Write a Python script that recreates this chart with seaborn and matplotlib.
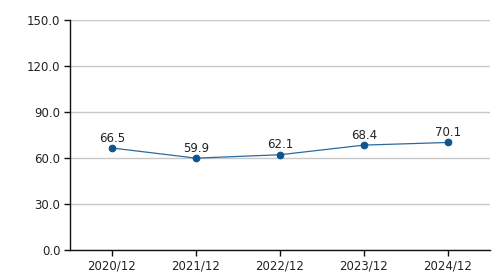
import matplotlib
matplotlib.use("Agg")
import matplotlib.pyplot as plt
import seaborn as sns
import pandas as pd

categories = ["2020/12", "2021/12", "2022/12", "2023/12", "2024/12"]
values = [66.5, 59.9, 62.1, 68.4, 70.1]
yticks = [0, 30, 60, 90, 120, 150]

sns.set_theme(style="white")
plt.rcParams['font.family'] = ['DejaVu Sans']

df = pd.DataFrame({"cat": categories, "val": values})
fig = plt.figure(figsize=(5, 2.8), dpi=100)
ax = fig.add_axes([0.14, 0.107, 0.84, 0.822])
sns.lineplot(data=df, x="cat", y="val", ax=ax, color="#2a6a9e", linewidth=0.9,
             marker="o", markersize=4.8, markerfacecolor="#0b5591",
             markeredgecolor="#0b5591", sort=False)
ax.set_xlim(-0.5, len(categories) - 0.5)
ax.set_ylim(0, 150)
ax.set_yticks(yticks)
ax.set_yticklabels([f"{v:.1f}" for v in yticks], fontsize=8.5, color="#222222")
ax.set_xticks(range(len(categories)))
ax.set_xticklabels(categories, fontsize=8.5, color="#222222")
ax.set_xlabel("")
ax.set_ylabel("")
ax.yaxis.grid(True, color="#c8c8c8", linewidth=1)
ax.set_axisbelow(True)
for s in ["top", "right"]:
    ax.spines[s].set_visible(False)
for s in ["left", "bottom"]:
    ax.spines[s].set_color("#111111")
    ax.spines[s].set_linewidth(1)
ax.tick_params(axis="both", which="both", length=4, width=1, color="#111111",
               left=True, bottom=True, pad=3)
for i, v in enumerate(values):
    ax.annotate(f"{v:.1f}", (i, v), xytext=(0, 2.5), textcoords="offset points",
                ha="center", va="bottom", fontsize=8.5, color="#222222")
fig.savefig("out.png", dpi=100)
